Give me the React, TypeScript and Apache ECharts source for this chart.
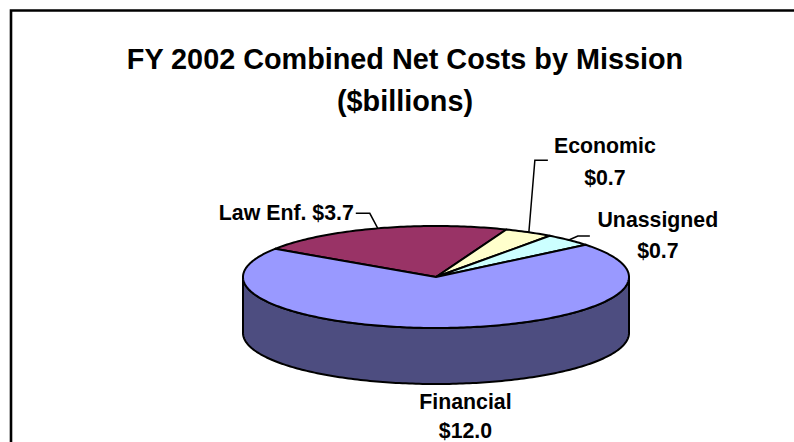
import React, { useEffect, useRef } from 'react';
import * as echarts from 'echarts';

// ---- data ----
const missions = ['Law Enf.', 'Economic', 'Unassigned', 'Financial'];
const netCosts = [3.7, 0.7, 0.7, 12.0];
const titleLines = ['FY 2002 Combined Net Costs by Mission', '($billions)'];

// ---- styles ----
const topColors = ['#993366', '#FFFFCC', '#CCFFFF', '#9999FF'];
const sideColors = ['#4D1A33', '#80806A', '#668080', '#4D4D80'];
const FONT = 'Arial, "Liberation Sans", Helvetica, sans-serif';

// pie geometry (screen pixels)
const PIE = { cx: 436, cy: 277, rx: 193, ry: 51, depth: 56, start: 146.5 };

// label layout relative to the slice's mid-angle point on the rim
const labelLayout = [
  { sep: ' ', leader: [[-8, -15], [-22, -15]], text: [-24, -15], align: 'right', lh: 31 },
  { sep: '\n', leader: [[6, -72], [19, -72]], text: [76, -70.5], align: 'center', lh: 32 },
  { sep: '\n', leader: [[9, -4], [21, -4]], text: [89, -4.5], align: 'center', lh: 31 },
  { sep: '\n', leader: null, text: [20, 88.5], align: 'center', lh: 29 },
];

const total = netCosts.reduce((a, b) => a + b, 0);
const cumulative: number[] = [];
{
  let acc = 0;
  netCosts.forEach((v) => {
    cumulative.push(acc);
    acc += v;
  });
}

function pt(theta: number, dy = 0): number[] {
  const r = (theta * Math.PI) / 180;
  return [PIE.cx + PIE.rx * Math.cos(r), PIE.cy - PIE.ry * Math.sin(r) + dy];
}

function arc(from: number, to: number, dy = 0): number[][] {
  const n = Math.max(2, Math.ceil(Math.abs(to - from)) + 1);
  const out: number[][] = [];
  for (let i = 0; i < n; i++) {
    out.push(pt(from + ((to - from) * i) / (n - 1), dy));
  }
  return out;
}

function sliceAngles(idx: number, value: number): [number, number] {
  const a1 = PIE.start - (cumulative[idx] / total) * 360;
  const a2 = a1 - (value / total) * 360;
  return [a1, a2];
}

export default function App() {
  const ref = useRef<HTMLDivElement>(null);
  useEffect(() => {
    document.body.style.margin = '0';
    if (!ref.current) return;
    const chart = echarts.init(ref.current, undefined, { renderer: 'svg' });
    const data = missions.map((m, i) => ({ name: m, value: netCosts[i] }));

    const option: any = {
      animation: false,
      backgroundColor: '#ffffff',
      graphic: [
        {
          type: 'rect',
          shape: { x: 11, y: 10.5, width: 820, height: 520 },
          style: { fill: 'none', stroke: '#000', lineWidth: 2.6 },
          silent: true,
        },
        {
          type: 'text',
          x: 405,
          y: 79.5,
          style: {
            text: titleLines.join('\n'),
            fill: '#000',
            font: `bold 28.8px ${FONT}`,
            fontSize: 28.8,
            fontWeight: 'bold',
            fontFamily: FONT,
            lineHeight: 42,
            align: 'center',
            verticalAlign: 'middle',
            textAlign: 'center',
            textVerticalAlign: 'middle',
          },
          silent: true,
        },
      ],
      series: [
        {
          type: 'custom',
          name: 'sides',
          coordinateSystem: 'none',
          z: 1,
          silent: true,
          data,
          renderItem: (params: any, api: any) => {
            const i = params.dataIndex;
            const [a1, a2] = sliceAngles(i, api.value(0));
            const children: any[] = [];
            for (const k of [-360, 0, 360]) {
              const lo = Math.max(a2, -180 + k);
              const hi = Math.min(a1, 0 + k);
              if (hi > lo) {
                const top = arc(lo, hi);
                const bottom = arc(hi, lo, PIE.depth);
                children.push({
                  type: 'polygon',
                  shape: { points: top.concat(bottom) },
                  style: { fill: sideColors[i], stroke: '#000', lineWidth: 2, lineJoin: 'round' },
                });
              }
            }
            return { type: 'group', children };
          },
        },
        {
          type: 'custom',
          name: 'tops',
          coordinateSystem: 'none',
          z: 2,
          silent: true,
          data,
          renderItem: (params: any, api: any) => {
            const i = params.dataIndex;
            const value = api.value(0);
            const [a1, a2] = sliceAngles(i, value);
            const points = [[PIE.cx, PIE.cy]].concat(arc(a1, a2));
            const children: any[] = [
              {
                type: 'polygon',
                shape: { points },
                style: { fill: topColors[i], stroke: '#000', lineWidth: 2, lineJoin: 'round' },
              },
            ];
            const mid = (a1 + a2) / 2;
            const anchor = pt(mid);
            const lay = labelLayout[i];
            if (lay.leader) {
              const lpts = [anchor].concat(
                lay.leader.map((p) => [anchor[0] + p[0], anchor[1] + p[1]])
              );
              children.push({
                type: 'polyline',
                shape: { points: lpts },
                style: { fill: 'none', stroke: '#000', lineWidth: 1.5 },
              });
            }
            children.push({
              type: 'text',
              x: anchor[0] + lay.text[0],
              y: anchor[1] + lay.text[1],
              style: {
                text: missions[i] + lay.sep + '$' + value.toFixed(1),
                fill: '#000',
                font: `bold 21.3px ${FONT}`,
                fontSize: 21.3,
                fontWeight: 'bold',
                fontFamily: FONT,
                lineHeight: lay.lh,
                align: lay.align,
                verticalAlign: 'middle',
                textAlign: lay.align,
                textVerticalAlign: 'middle',
              },
            });
            return { type: 'group', children };
          },
        },
      ],
    };
    chart.setOption(option);
    return () => chart.dispose();
  }, []);
  return <div ref={ref} style={{ width: 794, height: 442 }} />;
}
